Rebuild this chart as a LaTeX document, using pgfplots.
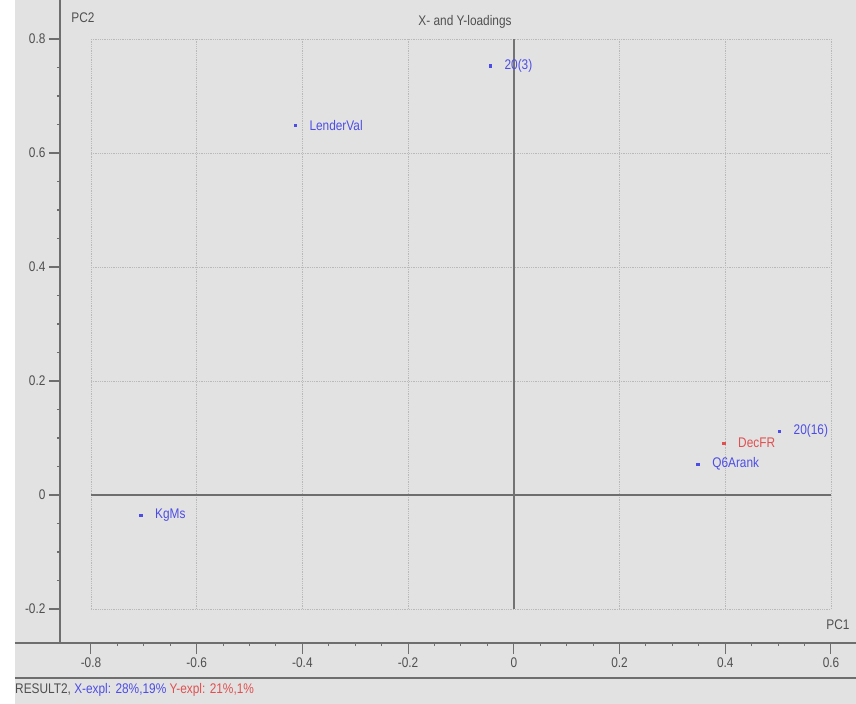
\documentclass[border=0pt]{standalone}
\usepackage{pgfplots}
\pgfplotsset{compat=1.18}
\usepackage{fontspec}
\setmainfont{Liberation Sans}
\newfontfamily\nf[FakeStretch=0.85]{Liberation Sans}
\definecolor{bg}{HTML}{E2E2E2}
\definecolor{axgray}{HTML}{6E6E6E}
\definecolor{txgray}{HTML}{505050}
\definecolor{ptblue}{HTML}{4D4DE6}
\definecolor{ptred}{HTML}{E05050}
\newcommand{\lf}{\nf\fontsize{14}{14}\selectfont}
\begin{document}
\begin{tikzpicture}
\useasboundingbox (-60bp,-61bp) rectangle (796bp,643bp);
\fill[white] (-60bp,-61bp) rectangle (796bp,643bp);
\fill[bg] (-45bp,-61bp) rectangle (796bp,643bp);
\begin{axis}[
  scale only axis, width=796bp, height=643bp,
  anchor=south west, at={(0,0)},
  xmin=-0.8586, xmax=0.6473, ymin=-0.2596, ymax=0.8684,
  axis lines*=left,
  axis line style={axgray, line width=1.6bp},
  xtick={-0.8,-0.6,-0.4,-0.2,0,0.2,0.4,0.6},
  ytick={-0.2,0,0.2,0.4,0.6,0.8},
  xticklabels={-0.8,-0.6,-0.4,-0.2,0,0.2,0.4,0.6},
  yticklabels={-0.2,0,0.2,0.4,0.6,0.8},
  minor tick num=3,
  tick align=outside,
  major tick length=11bp,
  minor tick length=3bp,
  x tick style={axgray, line width=1bp},
  y tick style={axgray, line width=1.4bp},
  ticklabel style={font=\lf, text=txgray},
  clip=false,
]
% grid
\draw[densely dotted, gray!55, line width=0.8bp] (axis cs:-0.8,0.8) -- (axis cs:0.6,0.8);
\draw[densely dotted, gray!55, line width=0.8bp] (axis cs:-0.8,0.6) -- (axis cs:0.6,0.6);
\draw[densely dotted, gray!55, line width=0.8bp] (axis cs:-0.8,0.4) -- (axis cs:0.6,0.4);
\draw[densely dotted, gray!55, line width=0.8bp] (axis cs:-0.8,0.2) -- (axis cs:0.6,0.2);
\draw[densely dotted, gray!55, line width=0.8bp] (axis cs:-0.8,-0.2) -- (axis cs:0.6,-0.2);
\draw[densely dotted, gray!55, line width=0.8bp] (axis cs:-0.8,-0.2) -- (axis cs:-0.8,0.8);
\draw[densely dotted, gray!55, line width=0.8bp] (axis cs:-0.6,-0.2) -- (axis cs:-0.6,0.8);
\draw[densely dotted, gray!55, line width=0.8bp] (axis cs:-0.4,-0.2) -- (axis cs:-0.4,0.8);
\draw[densely dotted, gray!55, line width=0.8bp] (axis cs:-0.2,-0.2) -- (axis cs:-0.2,0.8);
\draw[densely dotted, gray!55, line width=0.8bp] (axis cs:0.2,-0.2) -- (axis cs:0.2,0.8);
\draw[densely dotted, gray!55, line width=0.8bp] (axis cs:0.4,-0.2) -- (axis cs:0.4,0.8);
\draw[densely dotted, gray!55, line width=0.8bp] (axis cs:0.6,-0.2) -- (axis cs:0.6,0.8);
% zero lines
\draw[axgray, line width=2.4bp] (axis cs:-0.8,0) -- (axis cs:0.6,0);
\draw[gray!90!black, line width=1.4bp] (axis cs:0,-0.2) -- (axis cs:0,0.8);
% data
\addplot[only marks, mark=square*, mark size=1.1bp, color=ptblue,
  nodes near coords, point meta=explicit symbolic,
  nodes near coords style={anchor=west, xshift=11bp, font=\lf, text=ptblue}]
  table[meta=label] {
x y label
-0.045 0.753 20(3)
-0.414 0.649 LenderVal
0.502 0.112 20(16)
0.348 0.054 Q6Arank
-0.706 -0.035 KgMs
};
\addplot[only marks, mark=square*, mark size=1.1bp, color=ptred,
  nodes near coords, point meta=explicit symbolic,
  nodes near coords style={anchor=west, xshift=11bp, font=\lf, text=ptred}]
  table[meta=label] {
x y label
0.397 0.091 DecFR
};
\end{axis}
\draw[axgray, line width=1.6bp] (-45bp,0) -- (0,0);
\draw[axgray, line width=1.6bp] (-45bp,-35bp) -- (796bp,-35bp);
\node[font=\lf, text=txgray] at (23bp,625bp) {PC2};
\node[font=\lf, text=txgray] at (405bp,621bp) {X- and Y-loadings};
\node[font=\lf, text=txgray] at (778bp,18bp) {PC1};
\node[font=\lf, anchor=west, inner sep=0pt] at (-45bp,-47bp) {\textcolor{txgray}{RESULT2,} \textcolor{ptblue}{X-expl: 28\%,19\%} \textcolor{ptred}{Y-expl: 21\%,1\%}};
\end{tikzpicture}
\end{document}
